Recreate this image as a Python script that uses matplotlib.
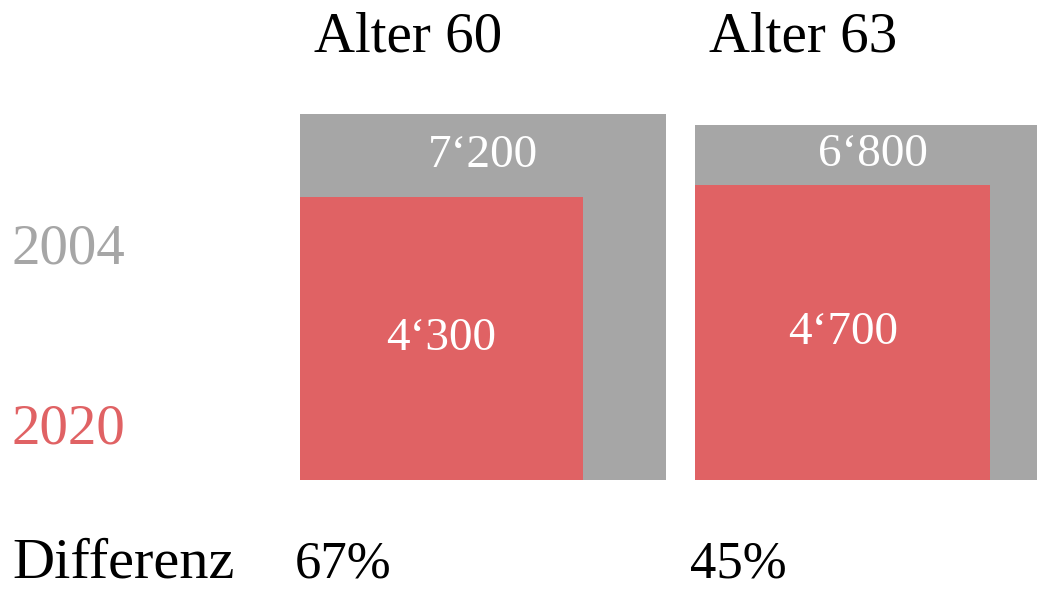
import matplotlib
matplotlib.use("Agg")
import matplotlib.pyplot as plt
from matplotlib.patches import Rectangle

# --- data ---
groups = ["Alter 60", "Alter 63"]
values_2004 = [7200, 6800]
values_2020 = [4300, 4700]
years = ["2004", "2020"]

GREY = "#a6a6a6"
RED = "#e06264"
FONT = "Liberation Serif"

# layout (pixel coordinates, y grows downward)
W, H = 1037, 590
K = 4.31              # px per sqrt(value) -> square area ~ value
lefts = [300, 695]
bottom = 480


def fmt(v):
    return f"{v:,}".replace(",", "\u2018")


fig = plt.figure(figsize=(W / 100, H / 100), dpi=100)
ax = fig.add_axes([0, 0, 1, 1])
ax.set_xlim(0, W)
ax.set_ylim(H, 0)
ax.axis("off")

for name, v04, v20, x0 in zip(groups, values_2004, values_2020, lefts):
    s04 = K * v04 ** 0.5
    s20 = K * v20 ** 0.5
    ax.add_patch(Rectangle((x0, bottom - s04), s04, s04, color=GREY, lw=0))
    ax.add_patch(Rectangle((x0, bottom - s20), s20, s20, color=RED, lw=0))

    # value labels
    ax.text(x0 + s04 / 2, (bottom - s04 + bottom - s20) / 2, fmt(v04),
            color="white", fontsize=34, family=FONT, ha="center", va="center")
    ax.text(x0 + s20 / 2, bottom - s20 / 2, fmt(v20),
            color="white", fontsize=34, family=FONT, ha="center", va="center")
    ax.text(x0 + 108, 52, name, fontsize=41, family=FONT,
            ha="center", va="baseline")

    diff = round((v04 / v20 - 1) * 100)
    ax.text(x0 - 5, 578, f"{diff}%", fontsize=38, family=FONT,
            ha="left", va="baseline")

ax.text(12, 264, years[0], color=GREY, fontsize=41, family=FONT,
        ha="left", va="baseline")
ax.text(12, 444, years[1], color=RED, fontsize=41, family=FONT,
        ha="left", va="baseline")
ax.text(12, 578, "Differenz", fontsize=42, family=FONT,
        ha="left", va="baseline")

fig.savefig("out.png", dpi=100)
